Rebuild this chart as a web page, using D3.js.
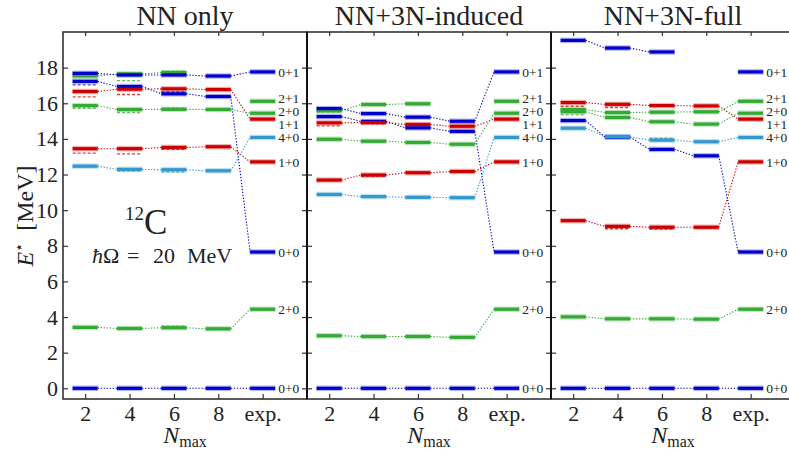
<!DOCTYPE html>
<html>
<head>
<meta charset="utf-8">
<script src="https://cdn.jsdelivr.net/npm/d3@7"></script>
<style>
body { margin: 0; background: #fff; }
svg { display: block; }
svg text { font-family: "Liberation Serif", "Times New Roman", serif !important; }
</style>
</head>
<body>
<svg id="chart" width="789" height="453"></svg>
<script>
// panels and x categories
const panelTitles = ["NN only", "NN+3N-induced", "NN+3N-full"];
const nmaxLabels = ["2", "4", "6", "8", "exp."];

// states: label (J pi T), J decides the colour
const stateLabels = ["0+0", "2+0", "0+0", "1+0", "4+0", "1+1", "2+0", "2+1", "0+1"];
const stateJ = [0, 2, 0, 1, 4, 1, 2, 2, 0];
const expEnergies = [0, 4.44, 7.65, 12.71, 14.08, 15.11, 15.44, 16.11, 17.76];

// calculated energies for Nmax = 2, 4, 6, 8 (null = not computed)
const nnOnly = [
  [0, 0, 0, 0],
  [3.42, 3.36, 3.40, 3.34],
  [17.23, 16.94, 16.53, 16.38],
  [13.45, 13.45, 13.52, 13.56],
  [12.47, 12.29, 12.27, 12.21],
  [16.66, 16.79, 16.81, 16.77],
  [15.87, 15.65, 15.66, 15.65],
  [17.53, 17.65, 17.72, null],
  [17.68, 17.59, 17.59, 17.53]
];
const nn3nInduced = [
  [0, 0, 0, 0],
  [2.95, 2.91, 2.91, 2.86],
  [15.25, 14.98, 14.62, 14.42],
  [11.69, 11.97, 12.10, 12.17],
  [10.88, 10.76, 10.72, 10.70],
  [14.90, 14.92, 14.81, 14.71],
  [13.98, 13.87, 13.80, 13.70],
  [15.58, 15.93, 15.97, null],
  [15.70, 15.42, 15.22, 14.99]
];
const nn3nFull = [
  [0, 0, 0, 0],
  [4.01, 3.90, 3.90, 3.88],
  [15.03, 14.10, 13.41, 13.05],
  [9.41, 9.09, 9.04, 9.04],
  [14.60, 14.12, 13.93, 13.84],
  [16.04, 15.94, 15.87, 15.85],
  [15.52, 15.20, 14.96, 14.83],
  [15.65, 15.48, 15.50, 15.52],
  [19.53, 19.10, 18.88, null]
];

// thin dashed levels: [Nmax index, state index, energy]
const nnOnlyDashed = [
  [0, 2, 17.03], [0, 5, 16.36], [0, 6, 15.72], [0, 3, 13.20], [0, 4, 12.42],
  [1, 7, 17.27], [1, 5, 16.49], [1, 6, 15.48], [1, 3, 13.16], [1, 4, 12.19],
  [2, 7, 17.80], [2, 2, 16.63], [2, 6, 15.72], [2, 3, 13.42], [2, 4, 12.14], [2, 1, 3.49]
];
const nn3nInducedDashed = [
  [0, 7, 15.52], [0, 5, 14.73], [1, 5, 14.85], [2, 5, 14.75], [1, 3, 11.92]
];
const nn3nFullDashed = [
  [0, 5, 15.83], [0, 6, 15.35], [1, 5, 15.76], [2, 4, 14.04], [1, 3, 8.96], [2, 3, 8.94]
];

const panelData = [nnOnly, nn3nInduced, nn3nFull];
const panelDashed = [nnOnlyDashed, nn3nInducedDashed, nn3nFullDashed];

const colorJ = {0: "#0000cc", 1: "#cc0000", 2: "#33aa33", 4: "#3399cc"};

const svg = d3.select("#chart");
const plotTop = 32, plotBottom = 399, panelW = 244, left0 = 63;
const halfBar = 12.5;

const y = d3.scaleLinear().domain([-0.6, 20]).range([plotBottom, plotTop]);

// spread exp labels so they don't overlap
function spread(ys, gap) {
  const pos = ys.slice();
  for (let it = 0; it < 60; it++) {
    for (let i = 1; i < pos.length; i++) {
      const d = pos[i] - pos[i - 1];
      if (d < gap) { const s = (gap - d) / 2; pos[i - 1] -= s; pos[i] += s; }
    }
  }
  return pos;
}

panelTitles.forEach(function(title, p) {
  const x0 = left0 + p * panelW;
  const x = d3.scaleLinear().domain([-0.5, 5.0]).range([x0, x0 + panelW]);
  const g = svg.append("g");
  const levels = panelData[p];

  // connectors first
  levels.forEach(function(vals, s) {
    const pts = vals.map((v, i) => [i, v]);
    if (vals[3] != null) pts.push([4, expEnergies[s]]);
    for (let i = 1; i < pts.length; i++) {
      const a = pts[i - 1], b = pts[i];
      if (a[1] == null || b[1] == null) continue;
      g.append("line")
        .attr("x1", x(a[0]) + halfBar).attr("y1", y(a[1]))
        .attr("x2", x(b[0]) - halfBar).attr("y2", y(b[1]))
        .attr("stroke", colorJ[stateJ[s]])
        .attr("stroke-width", 1.1)
        .attr("stroke-dasharray", "1.3,1.7");
    }
  });

  // thin dashed levels
  g.selectAll("line.dash")
    .data(panelDashed[p])
    .join("line")
    .attr("class", "dash")
    .attr("x1", d => x(d[0]) - halfBar).attr("x2", d => x(d[0]) + halfBar)
    .attr("y1", d => y(d[2])).attr("y2", d => y(d[2]))
    .attr("stroke", d => colorJ[stateJ[d[1]]])
    .attr("stroke-width", 1.4)
    .attr("stroke-opacity", 0.75)
    .attr("stroke-dasharray", "3,2");

  // level bars (calc + exp)
  const bars = [];
  levels.forEach(function(vals, s) {
    vals.forEach(function(v, i) { if (v != null) bars.push({i: i, s: s, e: v}); });
  });
  expEnergies.forEach(function(e, s) { bars.push({i: 4, s: s, e: e}); });

  g.selectAll("line.halo")
    .data(bars)
    .join("line")
    .attr("class", "halo")
    .attr("x1", d => x(d.i) - halfBar - 0.5).attr("x2", d => x(d.i) + halfBar + 0.5)
    .attr("y1", d => y(d.e)).attr("y2", d => y(d.e))
    .attr("stroke", d => colorJ[stateJ[d.s]])
    .attr("stroke-opacity", 0.3)
    .attr("stroke-width", 5.5);

  g.selectAll("line.bar")
    .data(bars)
    .join("line")
    .attr("class", "bar")
    .attr("x1", d => x(d.i) - halfBar).attr("x2", d => x(d.i) + halfBar)
    .attr("y1", d => y(d.e)).attr("y2", d => y(d.e))
    .attr("stroke", d => colorJ[stateJ[d.s]])
    .attr("stroke-width", 3.2);

  // exp labels
  const order = d3.range(expEnergies.length).sort((a, b) => y(expEnergies[a]) - y(expEnergies[b]));
  const ly = spread(order.map(s => y(expEnergies[s])), 13);
  g.selectAll("text.lab")
    .data(order)
    .join("text")
    .attr("class", "lab")
    .attr("x", x(4) + halfBar + 3)
    .attr("y", (d, k) => ly[k])
    .attr("dy", "0.35em")
    .attr("font-size", 13.5)
    .attr("fill", "#222")
    .text(d => stateLabels[d]);

  // axes: ticks pointing inward
  const minor = d3.range(0, 20, 1), major = d3.range(0, 19, 2);
  const yl = g.append("g").attr("transform", `translate(${x0},0)`);
  yl.call(d3.axisLeft(y).tickValues(minor).tickSize(-3).tickFormat(""));
  yl.call(d3.axisLeft(y).tickValues(major).tickSize(-5).tickPadding(5)
    .tickFormat(p === 0 ? d3.format("d") : ""));
  const yr = g.append("g").attr("transform", `translate(${x0 + panelW},0)`);
  yr.call(d3.axisRight(y).tickValues(minor).tickSize(-3).tickFormat(""));
  yr.call(d3.axisRight(y).tickValues(major).tickSize(-5).tickFormat(""));
  const xt = g.append("g").attr("transform", `translate(0,${plotTop})`);
  xt.call(d3.axisTop(x).tickValues(d3.range(5)).tickSize(-4).tickFormat(""));
  const xb = g.append("g").attr("transform", `translate(0,${plotBottom})`);
  xb.call(d3.axisBottom(x).tickValues(d3.range(5)).tickSize(-5).tickPadding(6)
    .tickFormat(i => nmaxLabels[i]));
  g.selectAll(".domain").remove();
  g.selectAll(".tick line").attr("stroke", "#333").attr("stroke-width", 1.2);
  g.selectAll(".tick text").attr("font-size", 22).attr("fill", "#222");

  // frame
  g.append("rect")
    .attr("x", x0).attr("y", plotTop)
    .attr("width", panelW).attr("height", plotBottom - plotTop)
    .attr("fill", "none").attr("stroke", "#333").attr("stroke-width", 1.6);

  // title
  g.append("text")
    .attr("x", x0 + panelW / 2).attr("y", 25)
    .attr("text-anchor", "middle")
    .attr("font-size", 28).attr("fill", "#222")
    .text(title);

  // N_max label
  const nl = g.append("text")
    .attr("x", x0 + panelW / 2).attr("y", 443)
    .attr("text-anchor", "middle")
    .attr("fill", "#222");
  nl.append("tspan").attr("font-style", "italic").attr("font-size", 24).text("N");
  nl.append("tspan").attr("font-size", 16).attr("dy", 4).text("max");
});

// separators a bit darker
[1, 2].forEach(function(k) {
  svg.append("line")
    .attr("x1", left0 + k * panelW).attr("x2", left0 + k * panelW)
    .attr("y1", plotTop).attr("y2", plotBottom)
    .attr("stroke", "#111").attr("stroke-width", 2);
});

// y axis title
const yt = svg.append("text")
  .attr("transform", "translate(33,216) rotate(-90)")
  .attr("text-anchor", "middle")
  .attr("font-size", 24).attr("fill", "#222");
yt.append("tspan").attr("font-style", "italic").text("E");
yt.append("tspan").attr("font-size", 15).attr("dy", -9).text("\u22C6");
yt.append("tspan").attr("dy", 9).text("\u2002[MeV]");

// nucleus and oscillator frequency
const nuc = svg.append("text")
  .attr("x", 125).attr("y", 234)
  .attr("fill", "#222");
nuc.append("tspan").attr("font-size", 19).attr("dy", -14).text("12");
nuc.append("tspan").attr("font-size", 35).attr("dy", 14).text("C");

const hw = svg.append("text")
  .attr("y", 263)
  .attr("font-size", 22).attr("fill", "#222");
hw.append("tspan").attr("x", 92).attr("font-style", "italic").text("\u0127");
hw.append("tspan").text("\u03A9");
hw.append("tspan").attr("x", 127).text("=");
hw.append("tspan").attr("x", 153).text("20");
hw.append("tspan").attr("x", 187).text("MeV");
</script>
</body>
</html>
